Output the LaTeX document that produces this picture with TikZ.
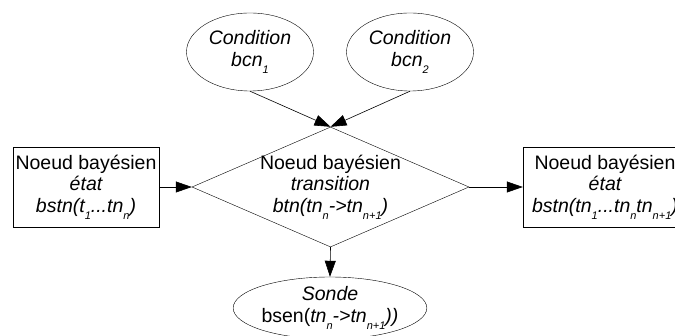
\documentclass[tikz,border=0pt]{standalone}
\usepackage{fontspec}
\setmainfont{Liberation Sans}
\usepackage{tikz}
\usetikzlibrary{arrows.meta, shapes.geometric}

\newcommand{\lsub}[1]{\raisebox{-7pt}{\fontsize{11}{11}\selectfont #1}}

\begin{document}
\begin{tikzpicture}[
    x=1pt, y=-1pt,
    every node/.style={font=\fontsize{19.5}{21.5}\selectfont, align=center, inner sep=0pt},
    box/.style={rectangle, draw, minimum width=146pt, minimum height=80pt},
    oval/.style={ellipse, draw, minimum width=127pt, minimum height=78pt},
    arr/.style={-{Triangle[length=16pt, width=11pt]}, semithick}
]
\useasboundingbox (0,0) rectangle (675,336);
\clip (0,0) rectangle (675,336);

% --- Conditions ---
\node[oval] (cond1) at (250, 52) {\itshape Condition\\ \itshape bcn\lsub{1}};
\node[oval] (cond2) at (410, 52) {\itshape Condition\\ \itshape bcn\lsub{2}};

% --- Transition ---
\node[diamond, draw, minimum width=277pt, minimum height=120pt] (trans) at (330.5, 187) {};
\node (trans_txt) at (trans.center) {Noeud bayésien\\ \itshape transition\\
    \itshape btn(tn\lsub{n}->tn\lsub{n+1})};

% --- States ---
\node[box] (lstate) at (86, 187) {Noeud bayésien\\ \itshape état\\
    \itshape bstn(t\lsub{1}...tn\lsub{n})};
\node[box, minimum width=164pt] (rstate) at (605, 187) {Noeud bayésien\\ \itshape état\\
    \itshape bstn(tn\lsub{1}...tn\lsub{n}tn\lsub{n+1})};

% --- Probe ---
\node[oval, minimum width=158pt, minimum height=62pt] (probe) at (330, 308) {\itshape Sonde\\
    bsen(\itshape tn\lsub{n}->tn\lsub{n+1}))};

\draw[arr] (cond1.south) -- (trans.north);
\draw[arr] (cond2.south) -- (trans.north);
\draw[arr] (lstate.east) -- (trans.west);
\draw[arr] (trans.east) -- (rstate.west);
\draw[arr] (trans.south) -- (probe.north);
\end{tikzpicture}
\end{document}
